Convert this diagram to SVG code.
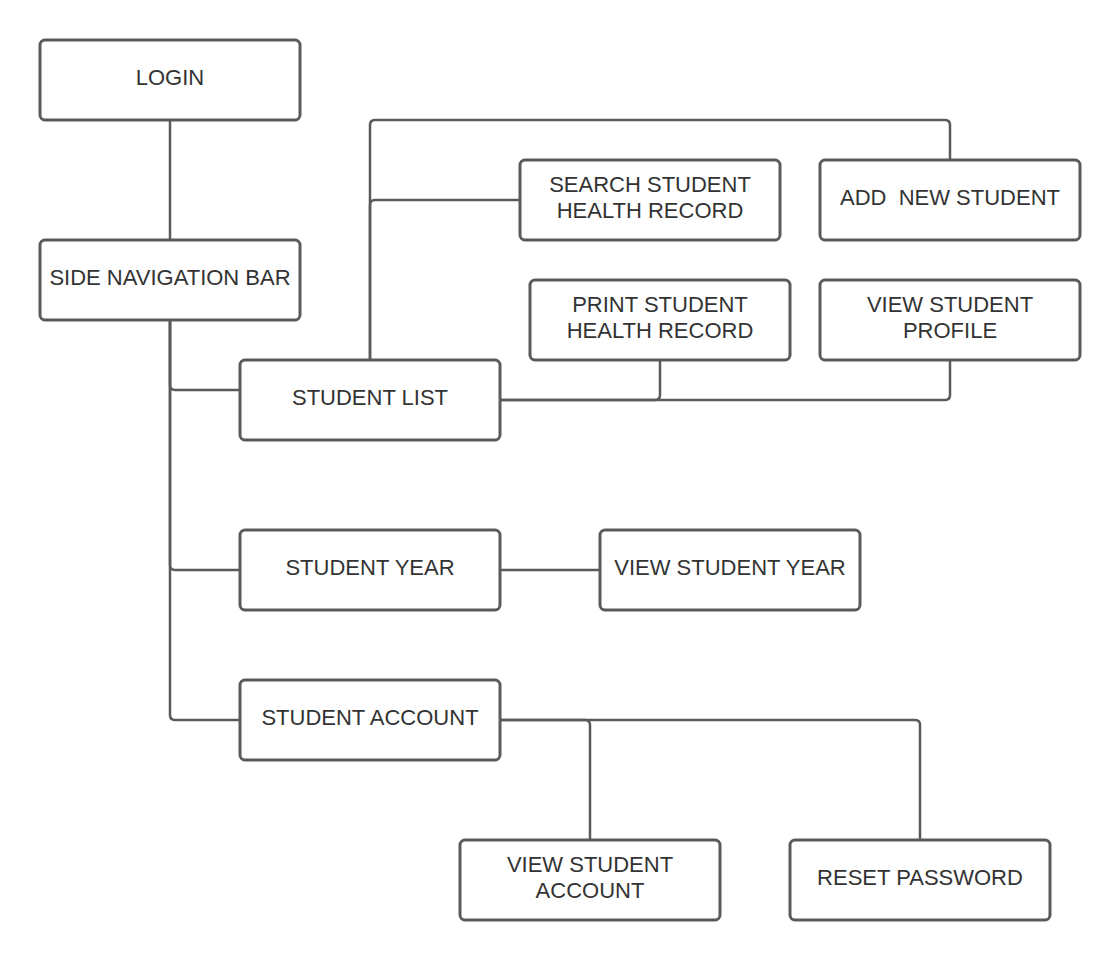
<svg xmlns="http://www.w3.org/2000/svg" width="1120" height="960" viewBox="0 0 1120 960">
<style>
.box{fill:#ffffff;stroke:#5a5a5a;stroke-width:3}
.lbl{font-family:"Liberation Sans",Arial,sans-serif;font-size:22px;fill:#333333;text-anchor:middle}
.con{fill:none;stroke:#5a5a5a;stroke-width:2.5}
</style>
<rect width="1120" height="960" fill="#ffffff"/>
<g id="connectors">
<path class="con" d="M170,120 V240"/>
<path class="con" d="M170,320 V385 Q170,390 175,390 H240"/>
<path class="con" d="M170,320 V565 Q170,570 175,570 H240"/>
<path class="con" d="M170,320 V715 Q170,720 175,720 H240"/>
<path class="con" d="M370,360 V125 Q370,120 375,120 H945 Q950,120 950,125 V160"/>
<path class="con" d="M370,360 V205 Q370,200 375,200 H520"/>
<path class="con" d="M500,400 H655 Q660,400 660,395 V360"/>
<path class="con" d="M500,400 H945 Q950,400 950,395 V360"/>
<path class="con" d="M500,570 H600"/>
<path class="con" d="M500,720 H915 Q920,720 920,725 V840"/>
<path class="con" d="M500,720 H585 Q590,720 590,725 V840"/>
</g>
<g id="login"><rect class="box" x="40" y="40" width="260" height="80" rx="5"/><text class="lbl" x="170" y="85">LOGIN</text></g>
<g id="side-nav"><rect class="box" x="40" y="240" width="260" height="80" rx="5"/><text class="lbl" x="170" y="285">SIDE NAVIGATION BAR</text></g>
<g id="student-list"><rect class="box" x="240" y="360" width="260" height="80" rx="5"/><text class="lbl" x="370" y="405">STUDENT LIST</text></g>
<g id="search-record"><rect class="box" x="520" y="160" width="260" height="80" rx="5"/><text class="lbl" x="650" y="192">SEARCH STUDENT</text><text class="lbl" x="650" y="218">HEALTH RECORD</text></g>
<g id="add-student"><rect class="box" x="820" y="160" width="260" height="80" rx="5"/><text class="lbl" x="950" y="205" xml:space="preserve">ADD  NEW STUDENT</text></g>
<g id="print-record"><rect class="box" x="530" y="280" width="260" height="80" rx="5"/><text class="lbl" x="660" y="312">PRINT STUDENT</text><text class="lbl" x="660" y="338">HEALTH RECORD</text></g>
<g id="view-profile"><rect class="box" x="820" y="280" width="260" height="80" rx="5"/><text class="lbl" x="950" y="312">VIEW STUDENT</text><text class="lbl" x="950" y="338">PROFILE</text></g>
<g id="student-year"><rect class="box" x="240" y="530" width="260" height="80" rx="5"/><text class="lbl" x="370" y="575">STUDENT YEAR</text></g>
<g id="view-year"><rect class="box" x="600" y="530" width="260" height="80" rx="5"/><text class="lbl" x="730" y="575">VIEW STUDENT YEAR</text></g>
<g id="student-account"><rect class="box" x="240" y="680" width="260" height="80" rx="5"/><text class="lbl" x="370" y="725">STUDENT ACCOUNT</text></g>
<g id="view-account"><rect class="box" x="460" y="840" width="260" height="80" rx="5"/><text class="lbl" x="590" y="872">VIEW STUDENT</text><text class="lbl" x="590" y="898">ACCOUNT</text></g>
<g id="reset-password"><rect class="box" x="790" y="840" width="260" height="80" rx="5"/><text class="lbl" x="920" y="885">RESET PASSWORD</text></g>
</svg>
